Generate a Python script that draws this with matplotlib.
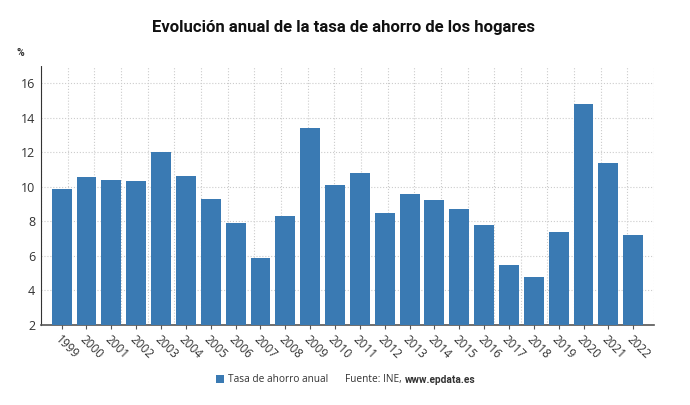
import numpy as np
import matplotlib.pyplot as plt

plt.rcParams['font.family'] = ['Open Sans', 'DejaVu Sans']

years = ['1999', '2000', '2001', '2002', '2003', '2004', '2005', '2006',
         '2007', '2008', '2009', '2010', '2011', '2012', '2013', '2014',
         '2015', '2016', '2017', '2018', '2019', '2020', '2021', '2022']
tasa = [9.9, 10.55, 10.4, 10.35, 12.0, 10.65, 9.3, 7.9,
        5.9, 8.3, 13.4, 10.1, 10.8, 8.5, 9.6, 9.25,
        8.7, 7.8, 5.5, 4.8, 7.4, 14.8, 11.4, 7.2]
yticks = [2, 4, 6, 8, 10, 12, 14, 16]

fig = plt.figure(figsize=(6.9, 4.05), dpi=100)
ax = fig.add_axes([0.0594, 0.1975, 0.8886, 0.6395])

x = np.arange(len(years))
bars = ax.bar(x, tasa, width=0.8, bottom=0, color='#3a7ab3', zorder=3,
              label='Tasa de ahorro anual')

xmin, xmax = -0.83, len(years) - 1 + 0.84
ax.set_xlim(xmin, xmax)
ax.set_ylim(2, 17)
ax.set_yticks(yticks)
ax.set_xticks(x)
ax.set_xticklabels(years, rotation=-45, ha='left', va='top',
                   rotation_mode='anchor', fontsize=8.5, color='#333333')
ax.tick_params(axis='x', length=3, color='#555555', pad=3)
ax.tick_params(axis='y', length=0, labelsize=9, labelcolor='#333333', pad=4)

# vertical grid lines split the axis into 23 equal parts
ax.set_xticks(np.linspace(xmin, xmax, 24), minor=True)
ax.tick_params(axis='x', which='minor', length=0)
ax.grid(axis='x', which='minor', color='#cccccc', linestyle=':', linewidth=0.8, zorder=0)
ax.grid(axis='y', which='major', color='#cccccc', linestyle=':', linewidth=0.8, zorder=0)

for side in ['top', 'right']:
    ax.spines[side].set_visible(False)
ax.spines['left'].set_color('#333333')
ax.spines['left'].set_linestyle((0, (1, 1)))
ax.spines['bottom'].set_color('#555555')
ax.spines['bottom'].set_linewidth(1.2)

fig.text(0.498, 0.932, 'Evolución anual de la tasa de ahorro de los hogares',
         ha='center', va='center', fontsize=12, fontweight='bold',
         family='Roboto', color='#111111')
fig.text(0.024, 0.868, '%', ha='left', va='center', fontsize=7.5, fontweight='bold',
         family='Roboto', color='#333333')

fig.legend(handles=[bars], loc='center left', bbox_to_anchor=(0.313, 0.062), frameon=False,
           fontsize=7.3, handlelength=0.75, handleheight=0.75, handletextpad=0.4,
           borderaxespad=0, borderpad=0, labelcolor='#333333')
src = fig.text(0.5, 0.062, 'Fuente: INE, ', ha='left', va='center', fontsize=7.3, color='#333333')
renderer = fig.canvas.get_renderer()
bb = src.get_window_extent(renderer).transformed(fig.transFigure.inverted())
fig.text(bb.x1, 0.062, 'www.epdata.es', ha='left', va='center', fontsize=7.3,
         fontweight='bold', family='Roboto', color='#333333')

fig.savefig('out.png', dpi=100)
